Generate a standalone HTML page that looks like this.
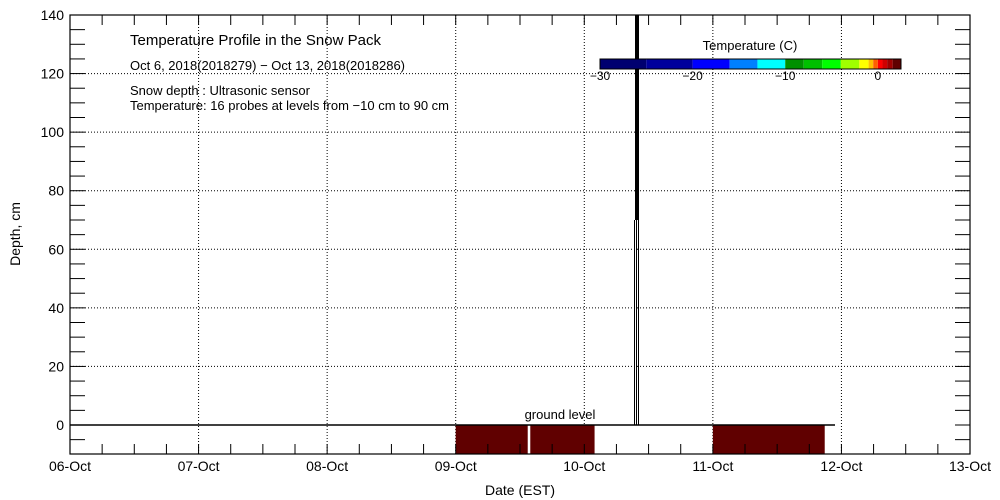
<!DOCTYPE html>
<html><head><meta charset="utf-8"><style>
body{margin:0;background:#fff}
svg{display:block;font-family:"Liberation Sans",sans-serif}
</style></head><body>
<svg id="c" width="1000" height="500">
<g id="grid"></g>
<g id="marks"></g>
<g id="axes"></g>
<g font-size="13">
<text x="130" y="45" font-size="15">Temperature Profile in the Snow Pack</text>
<text x="130" y="70">Oct  6, 2018(2018279) − Oct 13, 2018(2018286)</text>
<text x="130" y="95">Snow depth : Ultrasonic sensor</text>
<text x="130" y="110">Temperature: 16 probes at levels from −10 cm to 90 cm</text>
<text x="750" y="50" text-anchor="middle">Temperature (C)</text>
<text x="560" y="419" text-anchor="middle">ground level</text>
<text x="20" y="234" text-anchor="middle" transform="rotate(-90 20 234)" font-size="14">Depth, cm</text>
<text x="520" y="495" text-anchor="middle" font-size="14">Date (EST)</text>
</g>
<g id="cbar"></g>
</svg>
<script>
const dayLabels=["06-Oct","07-Oct","08-Oct","09-Oct","10-Oct","11-Oct","12-Oct","13-Oct"];
const yTicks=[0,20,40,60,80,100,120,140];
// temperature bars at ground level: start/end in days since 06-Oct
const barStart=[3.0,3.58,5.0];
const barEnd=[3.56,4.08,5.87];
const barTemp=[1.5,1.5,1.5];
// snow depth spike
const spikeDay=[4.41];
const spikeDepth=[140];
const cbarBounds=[-30,-25,-20,-16,-13,-10,-8,-6,-4,-2,-1,-0.5,0,0.5,1,1.6,2.5];
const cbarColors=["#000070","#00009c","#0000ff","#0080ff","#00ffff","#009000","#00c000","#00ff00","#a0ff00","#ffff00","#ffc000","#ff6000","#ff0000","#d00000","#a00000","#600000"];
const cbarTicks=[-30,-20,-10,0];

const NS="http://www.w3.org/2000/svg";
const L=70,R=970,T=15,B=454;
const xs=d=>L+d*(R-L)/7;
const ys=v=>425-v*(425-T)/140;
function mk(p,tag,a){const e=document.createElementNS(NS,tag);for(const k in a)e.setAttribute(k,a[k]);p.appendChild(e);return e;}
const grid=document.getElementById('grid'),marks=document.getElementById('marks'),axes=document.getElementById('axes'),cb=document.getElementById('cbar');
for(let i=1;i<7;i++){const g=mk(grid,'line',{x1:xs(i),x2:xs(i),y1:T,y2:B,stroke:'#000','stroke-dasharray':'1 2'});

}
yTicks.forEach(v=>{if(v===0||v===140)return;const g=mk(grid,'line',{x1:L,x2:R,y1:ys(v),y2:ys(v),stroke:'#000','stroke-dasharray':'1 2'});

});
barStart.forEach((s,i)=>{const r=mk(marks,'rect',{x:xs(s),y:ys(0),width:xs(barEnd[i])-xs(s),height:B-ys(0),fill:'#600000'});

});
const gl=mk(marks,'line',{x1:L,x2:xs(5.95),y1:ys(0),y2:ys(0),stroke:'#000','stroke-width':1.5});


spikeDay.forEach((d,i)=>{const x=Math.round(xs(d));
const a=mk(marks,'rect',{x:x-2,y:ys(spikeDepth[i]),width:4,height:ys(70)-ys(spikeDepth[i]),fill:'#000'});


[-2,0,2].forEach(o=>{const l=mk(marks,'line',{x1:x+o-0.5,x2:x+o-0.5,y1:ys(70),y2:ys(0),stroke:'#000','stroke-width':1});

});});
const fr=mk(axes,'rect',{x:L,y:T,width:R-L,height:B-T,fill:'none',stroke:'#000','stroke-width':1.2});


for(let k=1;k<28;k++){const x=xs(k/4);
mk(axes,'line',{x1:x,x2:x,y1:B,y2:B-10,stroke:'#000'});mk(axes,'line',{x1:x,x2:x,y1:T,y2:T+10,stroke:'#000'});}
for(let v=-5;v<140;v+=5){const y=ys(v);
mk(axes,'line',{x1:L,x2:L+15,y1:y,y2:y,stroke:'#000'});mk(axes,'line',{x1:R,x2:R-15,y1:y,y2:y,stroke:'#000'});}
dayLabels.forEach((t,i)=>{const e=mk(axes,'text',{x:xs(i),y:471,'text-anchor':'middle','font-size':14});e.textContent=t;

});
yTicks.forEach(v=>{const e=mk(axes,'text',{x:L-6,y:ys(v)+5,'text-anchor':'end','font-size':14});e.textContent=v;

});
const cx=t=>600+(t+30)*(301/32.5);
cbarColors.forEach((c,i)=>{const r=mk(cb,'rect',{x:cx(cbarBounds[i]),y:59,width:cx(cbarBounds[i+1])-cx(cbarBounds[i]),height:10,fill:c});

});
mk(cb,'rect',{x:600,y:59,width:301,height:10,fill:'none',stroke:'#000'});
cbarTicks.forEach(t=>{const e=mk(cb,'text',{x:cx(t),y:80,'text-anchor':'middle','font-size':12});e.textContent=t===0?'0':'−'+Math.abs(t);

});
</script>
</body></html>
